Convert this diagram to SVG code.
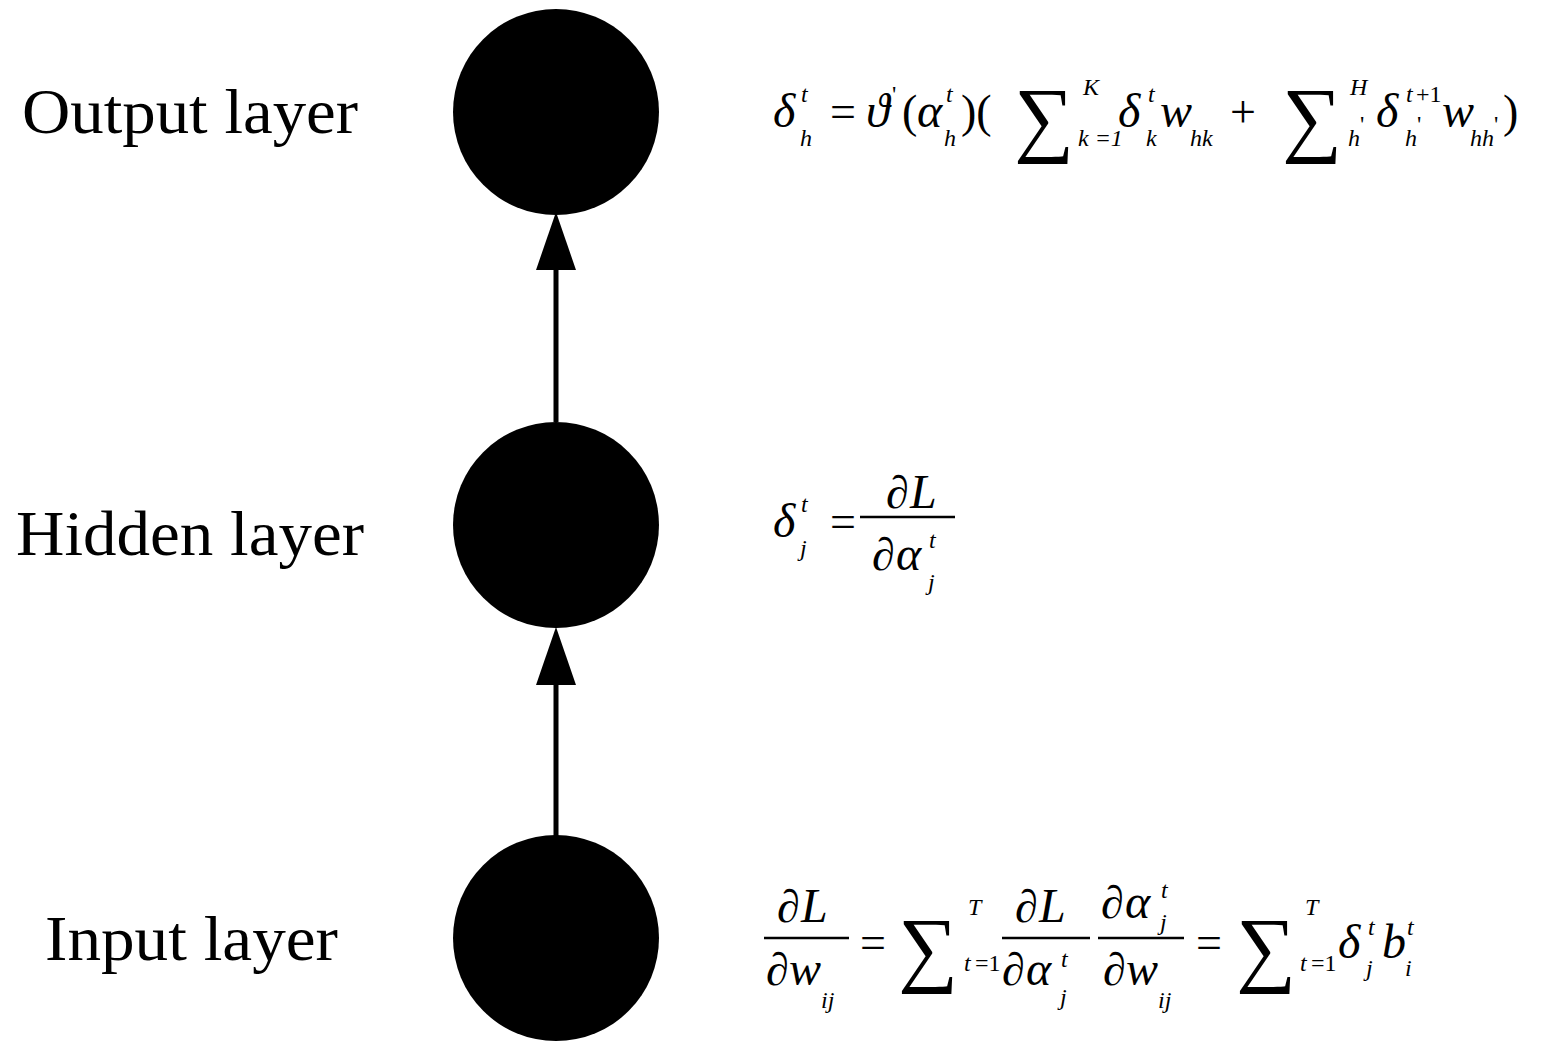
<svg xmlns="http://www.w3.org/2000/svg" width="1556" height="1055" viewBox="0 0 1556 1055">
<style>
.lbl{font-family:"Liberation Serif",serif;font-size:64px;fill:#000}
.m{font-family:"Liberation Serif",serif;font-style:italic;font-size:48px;fill:#000}
.r{font-family:"Liberation Serif",serif;font-size:46px;fill:#000}
.s{font-family:"Liberation Serif",serif;font-style:italic;font-size:24px;fill:#000}
.sr{font-family:"Liberation Serif",serif;font-size:24px;fill:#000}
.sum{font-family:"Liberation Serif",serif;font-size:84px;fill:#000}
</style>
<rect width="1556" height="1055" fill="#fff"/>
<g id="connectors" stroke="#000" stroke-width="5">
<line x1="556" y1="422" x2="556" y2="240"/>
<path d="M536,270 L556,212 L576,270 Z" fill="#000" stroke="none"/>
<line x1="556" y1="838" x2="556" y2="655"/>
<path d="M536,685 L556,627 L576,685 Z" fill="#000" stroke="none"/>
</g>
<g id="output"><circle cx="556" cy="112" r="103" fill="#000"/><text class="lbl" x="22" y="133" textLength="336" lengthAdjust="spacingAndGlyphs">Output layer</text></g>
<g id="hidden"><circle cx="556" cy="525" r="103" fill="#000"/><text class="lbl" x="16" y="555" textLength="348" lengthAdjust="spacingAndGlyphs">Hidden layer</text></g>
<g id="input"><circle cx="556" cy="938" r="103" fill="#000"/><text class="lbl" x="45" y="960" textLength="293" lengthAdjust="spacingAndGlyphs">Input layer</text></g>
<g id="formula-output">
<text class="m" x="773" y="127">δ</text><text class="s" x="801" y="102">t</text><text class="s" x="800" y="146">h</text>
<text class="r" x="830" y="127">=</text>
<text class="m" x="866" y="127">ϑ</text><text class="sr" x="892" y="102">'</text>
<text class="r" x="902" y="127">(</text><text class="m" x="917" y="127">α</text><text class="s" x="946" y="102">t</text><text class="s" x="944" y="146">h</text>
<text class="r" x="961" y="127">)(</text>
<text class="sum" x="1014" y="146">∑</text><text class="s" x="1083" y="95">K</text><text class="s" x="1078" y="146">k =1</text>
<text class="m" x="1118" y="127">δ</text><text class="s" x="1148" y="102">t</text><text class="s" x="1146" y="146">k</text>
<text class="m" x="1160" y="127">w</text><text class="s" x="1190" y="146">hk</text>
<text class="r" x="1230" y="127">+</text>
<text class="sum" x="1282" y="146">∑</text><text class="s" x="1350" y="95">H</text><text class="s" x="1348" y="146">h</text><text class="sr" x="1360" y="132">'</text>
<text class="m" x="1376" y="127">δ</text><text class="s" x="1406" y="102">t</text><text class="sr" x="1416" y="102">+1</text><text class="s" x="1405" y="146">h</text><text class="sr" x="1417" y="132">'</text>
<text class="m" x="1442" y="127">w</text><text class="s" x="1470" y="146">hh</text><text class="sr" x="1494" y="132">'</text>
<text class="r" x="1503" y="127">)</text>
</g>
<g id="formula-hidden">
<text class="m" x="773" y="537">δ</text><text class="s" x="801" y="512">t</text><text class="s" x="800" y="556">j</text>
<text class="r" x="830" y="537">=</text>
<text class="r" x="886" y="508">∂</text><text class="m" x="910" y="508">L</text>
<line x1="860" y1="517" x2="955" y2="517" stroke="#000" stroke-width="2.5"/>
<text class="r" x="872" y="570">∂</text><text class="m" x="896" y="570">α</text><text class="s" x="929" y="548">t</text><text class="s" x="928" y="590">j</text>
</g>
<g id="formula-input">
<text class="r" x="777" y="922">∂</text><text class="m" x="801" y="922">L</text>
<line x1="764" y1="938" x2="849" y2="938" stroke="#000" stroke-width="2.5"/>
<text class="r" x="766" y="985">∂</text><text class="m" x="789" y="985">w</text><text class="s" x="821" y="1008">ij</text>
<text class="r" x="860" y="958">=</text>
<text class="sum" x="898" y="976">∑</text><text class="s" x="968" y="915">T</text><text class="s" x="964" y="971">t</text><text class="sr" x="975" y="971">=1</text>
<text class="r" x="1015" y="922">∂</text><text class="m" x="1039" y="922">L</text>
<line x1="1002" y1="938" x2="1090" y2="938" stroke="#000" stroke-width="2.5"/>
<text class="r" x="1002" y="985">∂</text><text class="m" x="1026" y="985">α</text><text class="s" x="1061" y="967">t</text><text class="s" x="1060" y="1005">j</text>
<text class="r" x="1101" y="918">∂</text><text class="m" x="1125" y="918">α</text><text class="s" x="1161" y="898">t</text><text class="s" x="1160" y="930">j</text>
<line x1="1098" y1="938" x2="1184" y2="938" stroke="#000" stroke-width="2.5"/>
<text class="r" x="1103" y="985">∂</text><text class="m" x="1126" y="985">w</text><text class="s" x="1158" y="1008">ij</text>
<text class="r" x="1196" y="958">=</text>
<text class="sum" x="1236" y="976">∑</text><text class="s" x="1305" y="915">T</text><text class="s" x="1300" y="971">t</text><text class="sr" x="1311" y="971">=1</text>
<text class="m" x="1338" y="958">δ</text><text class="s" x="1368" y="935">t</text><text class="s" x="1366" y="976">j</text>
<text class="m" x="1382" y="958">b</text><text class="s" x="1407" y="935">t</text><text class="s" x="1405" y="976">i</text>
</g>
</svg>
